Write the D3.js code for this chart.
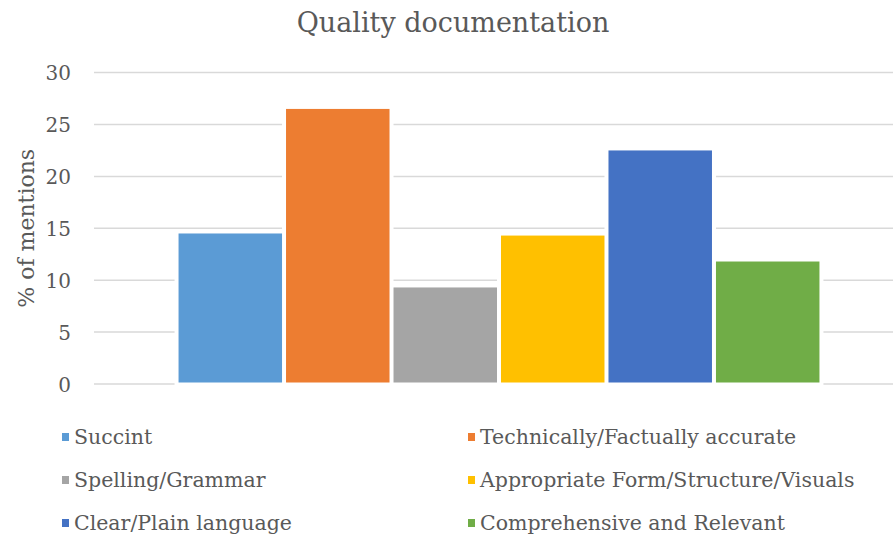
<!DOCTYPE html>
<html>
<head>
<meta charset="utf-8">
<script src="https://cdn.jsdelivr.net/npm/d3@7"></script>
<style>
  body { margin: 0; background: #fff; }
  svg { display: block; }
  text { font-family: "DejaVu Serif", "Liberation Serif", serif; fill: #595959; }
</style>
</head>
<body>
<div id="chart"></div>
<script>
// chart data
const categories = ["Quality documentation"];
const seriesNames = [
  "Succint",
  "Technically/Factually accurate",
  "Spelling/Grammar",
  "Appropriate Form/Structure/Visuals",
  "Clear/Plain language",
  "Comprehensive and Relevant"
];
const seriesValues = [14.5, 26.5, 9.3, 14.3, 22.5, 11.8];
const seriesColors = ["#5B9BD5", "#ED7D31", "#A5A5A5", "#FFC000", "#4472C4", "#70AD47"];
const yTicks = [0, 5, 10, 15, 20, 25, 30];

const width = 893, height = 538;
const plot = { left: 94, right: 904, top: 72.6, bottom: 384 };

const svg = d3.select("#chart")
  .append("svg")
  .attr("width", width)
  .attr("height", height);

const y = d3.scaleLinear()
  .domain([0, 30])
  .range([plot.bottom, plot.top]);

const x0 = d3.scaleBand()
  .domain(categories)
  .range([plot.left, plot.right])
  .paddingOuter(0.128)
  .paddingInner(0);

const x1 = d3.scaleBand()
  .domain(seriesNames)
  .range([0, x0.bandwidth()]);

// gridlines
svg.append("g")
  .selectAll("line")
  .data(yTicks)
  .enter()
  .append("line")
  .attr("x1", plot.left)
  .attr("x2", plot.right)
  .attr("y1", d => y(d))
  .attr("y2", d => y(d))
  .attr("stroke", "#D9D9D9")
  .attr("stroke-width", 1.5);

// y axis labels
const yAxis = svg.append("g")
  .attr("transform", `translate(${plot.left - 23},0)`)
  .call(d3.axisLeft(y).tickValues(yTicks).tickSize(0).tickPadding(0));
yAxis.select(".domain").remove();
yAxis.selectAll("text")
  .attr("font-size", "20px")
  .attr("font-family", "DejaVu Serif, serif")
  .attr("fill", "#595959")
  .attr("dy", "0.36em");

// bars (white halo behind, like the original's white outline)
const bars = svg.append("g")
  .selectAll("g")
  .data(categories)
  .enter()
  .append("g")
  .attr("transform", d => `translate(${x0(d)},0)`);

const barData = seriesNames.map((name, i) => ({ name, value: seriesValues[i], color: seriesColors[i] }));

bars.selectAll(".halo")
  .data(barData)
  .enter()
  .append("rect")
  .attr("class", "halo")
  .attr("x", d => x1(d.name) + 2)
  .attr("y", d => y(d.value))
  .attr("width", x1.bandwidth() - 4)
  .attr("height", d => y(0) - y(d.value) - 1.5)
  .attr("fill", "#fff")
  .attr("stroke", "#fff")
  .attr("stroke-width", 8);

bars.selectAll(".bar")
  .data(barData)
  .enter()
  .append("rect")
  .attr("class", "bar")
  .attr("x", d => x1(d.name) + 2)
  .attr("y", d => y(d.value))
  .attr("width", x1.bandwidth() - 4)
  .attr("height", d => y(0) - y(d.value) - 1.5)
  .attr("fill", d => d.color);

// title
svg.append("text")
  .attr("x", 453)
  .attr("y", 32)
  .attr("text-anchor", "middle")
  .attr("font-size", "27px")
  .text("Quality documentation");

// y axis title
svg.append("text")
  .attr("transform", `translate(34,${(plot.top + plot.bottom) / 2}) rotate(-90)`)
  .attr("text-anchor", "middle")
  .attr("font-size", "22px")
  .text("% of mentions");

// legend, two columns
const legend = svg.append("g")
  .selectAll("g")
  .data(barData)
  .enter()
  .append("g")
  .attr("transform", (d, i) => `translate(${i % 2 === 0 ? 62 : 468},${437 + Math.floor(i / 2) * 43})`);

legend.append("rect")
  .attr("x", 0)
  .attr("y", -4)
  .attr("width", 7)
  .attr("height", 8)
  .attr("fill", d => d.color);

legend.append("text")
  .attr("x", 12)
  .attr("y", 0)
  .attr("dy", "0.36em")
  .attr("font-size", "20.5px")
  .text(d => d.name);
</script>
</body>
</html>
